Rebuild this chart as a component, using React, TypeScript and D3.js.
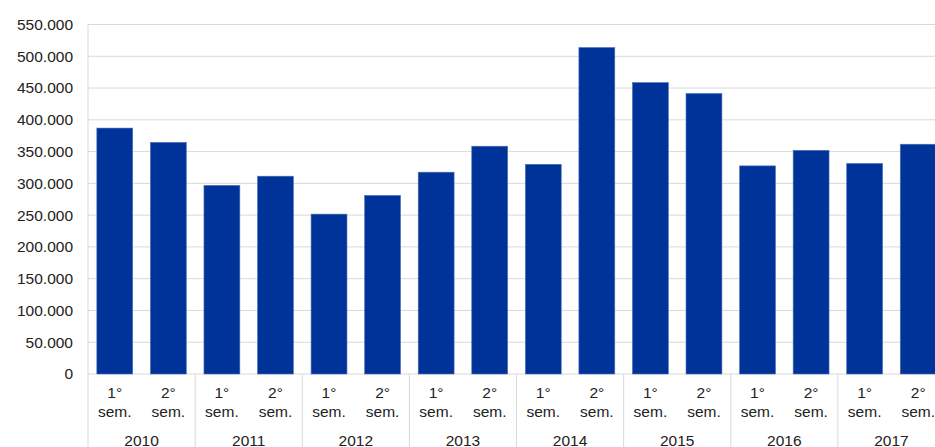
import React from "react";
import * as d3 from "d3";

const years = ["2010", "2011", "2012", "2013", "2014", "2015", "2016", "2017"];
const semesters = ["1°", "2°"];
const values = [
  387000, 364500,
  296800, 311300,
  251600, 281000,
  317600, 358500,
  330000, 513700,
  458600, 441400,
  327500, 352000,
  331300, 361600,
];
const yTicks = [0, 50000, 100000, 150000, 200000, 250000, 300000, 350000, 400000, 450000, 500000, 550000];

const W = 935;
const H = 447;
const left = 88;
const right = 945;
const top = 24.5;
const bottom = 374;
const font = "'Liberation Sans', Arial, sans-serif";

export default function App() {
  const cats = values.map((_, i) => i);
  const x = d3.scaleBand<number>().domain(cats).range([left, right]).paddingInner(0.33).paddingOuter(0.165);
  const y = d3.scaleLinear().domain([0, 550000]).range([bottom, top]);
  const step = x.step();
  const fmt = (v: number) => d3.format(",")(v).replace(/,/g, ".");
  const grid = "#d9d9d9";

  return (
    <svg width={W} height={H} style={{ position: "absolute", left: 0, top: 0 }} fontFamily={font}>
      {yTicks.map((t) => (
        <g key={t}>
          <line x1={left} x2={W} y1={y(t)} y2={y(t)} stroke={grid} strokeWidth={1} />
          <text x={73} y={y(t)} dy="0.35em" textAnchor="end" fontSize={15.5} fill="#222">
            {fmt(t)}
          </text>
        </g>
      ))}
      <line x1={left} x2={left} y1={top} y2={H} stroke={grid} strokeWidth={1} />
      {years.map((yr, k) => {
        const x0 = left + 2 * k * step;
        return (
          <g key={yr}>
            {k > 0 && <line x1={x0} x2={x0} y1={bottom} y2={H} stroke={grid} strokeWidth={1} />}
            <text x={x0 + step} y={445.5} textAnchor="middle" fontSize={15.5} fill="#222">
              {yr}
            </text>
          </g>
        );
      })}
      {values.map((v, i) => (
        <rect
          key={i}
          x={x(i)}
          y={y(v)}
          width={x.bandwidth()}
          height={bottom - y(v)}
          fill="#003399"
          stroke="#4d6fb8"
          strokeWidth={0.6}
        />
      ))}
      {values.map((_, i) => {
        const cx = (x(i) as number) + x.bandwidth() / 2;
        return (
          <text key={"l" + i} x={cx} textAnchor="middle" fontSize={15.5} fill="#222">
            <tspan x={cx} y={398}>{semesters[i % 2]}</tspan>
            <tspan x={cx} y={417}>sem.</tspan>
          </text>
        );
      })}
    </svg>
  );
}
